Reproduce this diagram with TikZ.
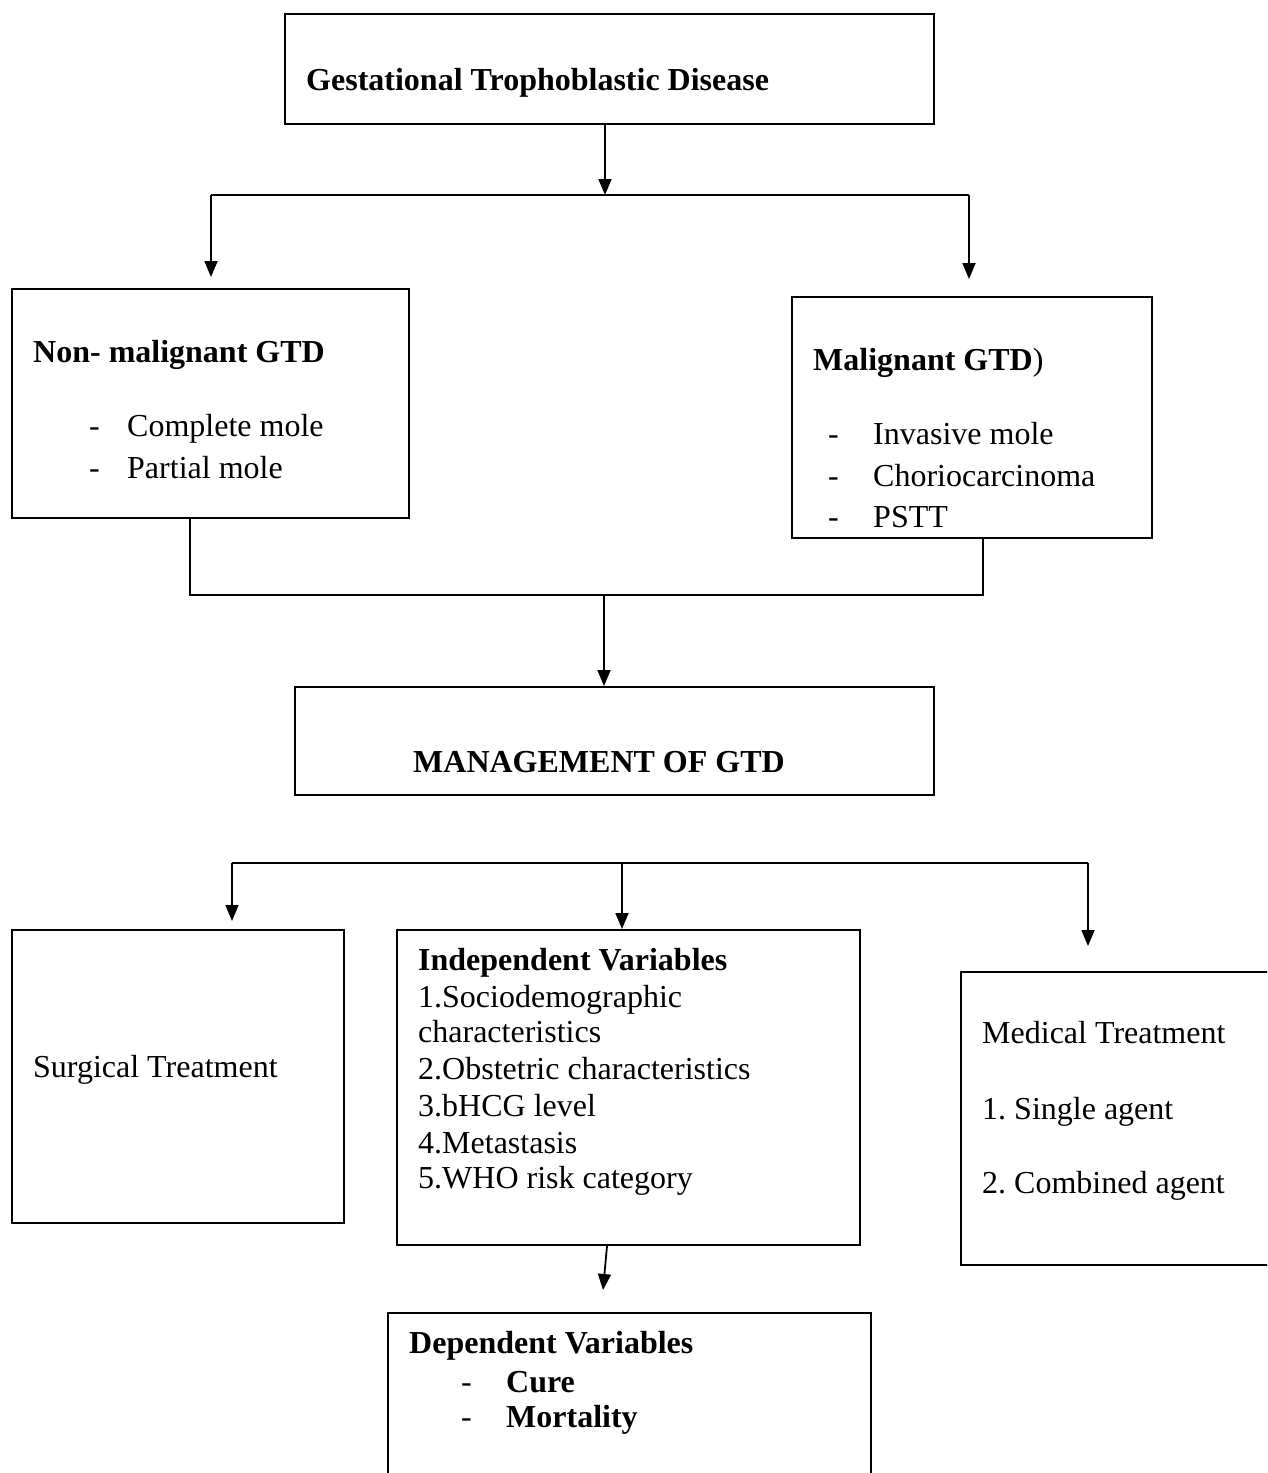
\documentclass[tikz,border=0pt]{standalone}
\usepackage{fontspec}
\setmainfont{Liberation Serif}
\usetikzlibrary{arrows.meta,positioning}
\newcommand\gtdsize{\fontsize{32}{38}\selectfont}
\frenchspacing
\tikzset{box/.style={draw, line width=2pt, inner sep=0pt}, arr/.style={-{Triangle[length=16pt,width=13pt]}, line width=1.8pt}, lnk/.style={line width=1.8pt}, txt/.style={anchor=base west, inner sep=0pt, font=\gtdsize}, hd/.style={txt, font=\gtdsize\bfseries}}

\begin{document}
\begin{tikzpicture}[x=1pt,y=-1pt]
\useasboundingbox (0,0) rectangle (1267,1473);
\clip (0,0) rectangle (1267,1473);
% boxes
\node[box, minimum width=649pt, minimum height=110pt] (gtd) at (609.5,69) {};
\node[box, minimum width=397pt, minimum height=229pt] (nonmal) at (210.5,403.5) {};
\node[box, minimum width=360pt, minimum height=241pt] (mal) at (972,417.5) {};
\node[box, minimum width=639pt, minimum height=108pt] (mgmt) at (614.5,741) {};
\node[box, minimum width=332pt, minimum height=293pt] (surg) at (178,1076.5) {};
\node[box, minimum width=463pt, minimum height=315pt] (indep) at (628.5,1087.5) {};
\node[box, minimum width=329pt, minimum height=293pt] (med) at (1125.5,1118.5) {};
\node[box, minimum width=483pt, minimum height=187pt] (dep) at (629.5,1406.5) {};
% texts
\node[hd] (gtd-t) at (306,90) {Gestational Trophoblastic Disease};
\node[hd] (nonmal-t) at (33,362) {Non- malignant GTD};
\foreach \t/\y [count=\i] in {Complete mole/436, Partial mole/478} {
  \node[txt] (nonmal-d\i) at (89,\y) {-};
  \node[txt] (nonmal-\i) at (127,\y) {\t};
}
\node[txt] (mal-t) at (813,370) {\textbf{Malignant GTD})};
\foreach \t/\y [count=\i] in {Invasive mole/444, Choriocarcinoma/486, PSTT/527} {
  \node[txt] (mal-d\i) at (828,\y) {-};
  \node[txt] (mal-\i) at (873,\y) {\t};
}
\node[hd] (mgmt-t) at (413,772) {MANAGEMENT OF GTD};
\node[txt] (surg-t) at (33,1077) {Surgical Treatment};
\node[hd] (indep-t) at (418,970) {Independent Variables};
\foreach \t/\y [count=\i] in {1.Sociodemographic/1007, characteristics/1042, 2.Obstetric characteristics/1079, 3.bHCG level/1116, 4.Metastasis/1153, 5.WHO risk category/1188}
  \node[txt] (indep-\i) at (418,\y) {\t};
\node[txt] (med-t) at (982,1043) {Medical Treatment};
\node[txt] (med-1) at (982,1119) {1. Single agent};
\node[txt] (med-2) at (982,1193) {2. Combined agent};
\node[hd] (dep-t) at (409,1353) {Dependent Variables};
\foreach \t/\y [count=\i] in {Cure/1392, Mortality/1427} {
  \node[txt] (dep-d\i) at (461,\y) {-};
  \node[hd] (dep-\i) at (506,\y) {\t};
}
% connectors
\coordinate (s0) at (605,195); \coordinate (sl) at (211,195); \coordinate (sr) at (969,195);
\draw[arr] (gtd.south -| s0) -- (s0);
\draw[lnk] (sl) -- (sr);
\draw[arr, shorten >=11pt] (sl) -- (nonmal.north -| sl);
\draw[arr, shorten >=17pt] (sr) -- (mal.north -| sr);
\coordinate (jl) at (190,595); \coordinate (jr) at (983,595); \coordinate (j0) at (604,595);
\draw[lnk] (nonmal.south -| jl) -- (jl) -- (jr) -- (mal.south -| jr);
\draw[arr] (j0) -- (mgmt.north -| j0);
\coordinate (bl) at (232,863); \coordinate (bm) at (622,863); \coordinate (br) at (1088,863);
\draw[lnk] (bl) -- (br);
\draw[arr, shorten >=8pt] (bl) -- (surg.north -| bl);
\draw[arr] (bm) -- (indep.north -| bm);
\draw[arr, shorten >=25pt] (br) -- (med.north -| br);
\coordinate (dtip) at (603,1290);
\draw[arr] ([xshift=-21.5pt]indep.south) -- (dtip);
\end{tikzpicture}
\end{document}
